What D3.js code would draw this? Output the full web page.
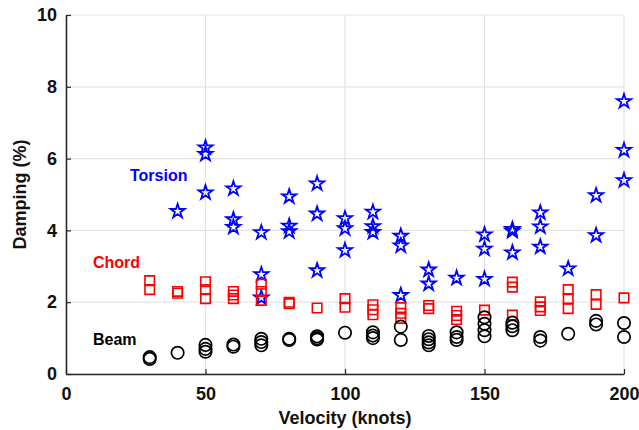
<!DOCTYPE html>
<html lang="en">
<head>
<meta charset="utf-8">
<title>Damping vs velocity</title>
<script src="https://cdn.jsdelivr.net/npm/d3@7"></script>
<style>
  body { margin: 0; background: #fff; }
  text { font-family: "Liberation Sans", Arial, sans-serif; font-weight: bold; }
</style>
</head>
<body>
<script>
// data
var torsionVel = [40,50,50,50,60,60,60,70,70,70,80,80,80,90,90,90,100,100,100,110,110,110,120,120,120,130,130,140,150,150,150,160,160,160,170,170,170,180,190,190,200,200,200];
var torsionDamp = [4.56,6.33,6.15,5.08,5.19,4.33,4.12,3.97,2.8,2.15,4.97,4.15,4.0,5.33,4.49,2.91,4.36,4.08,3.47,4.54,4.14,3.98,3.87,3.6,2.22,2.93,2.54,2.7,3.91,3.51,2.67,4.06,4.01,3.41,4.52,4.13,3.57,2.96,5.0,3.89,7.62,6.26,5.42];

var chordVel = [30,30,40,40,50,50,50,60,60,60,70,70,70,80,80,90,100,100,110,110,110,120,120,120,130,130,140,140,140,150,160,160,160,170,170,170,180,180,180,190,190,200];
var chordDamp = [2.6,2.35,2.3,2.25,2.57,2.35,2.1,2.3,2.2,2.1,2.5,2.3,2.05,2.0,1.96,1.84,2.1,1.86,1.93,1.79,1.65,1.85,1.69,1.55,1.91,1.82,1.75,1.63,1.52,1.78,2.56,2.42,1.64,2.01,1.87,1.77,2.35,2.1,1.82,2.21,1.94,2.12];

var beamVel = [30,30,40,50,50,50,60,60,70,70,70,80,80,90,90,90,100,110,110,110,120,120,130,130,130,130,140,140,140,150,150,150,150,160,160,160,170,170,180,190,190,200,200];
var beamDamp = [0.47,0.42,0.59,0.81,0.7,0.62,0.82,0.76,0.98,0.89,0.8,0.98,0.95,1.05,1.0,0.96,1.15,1.16,1.07,1.0,1.32,0.95,1.06,0.97,0.88,0.8,1.16,1.03,0.95,1.58,1.4,1.22,1.05,1.43,1.33,1.22,1.03,0.93,1.12,1.48,1.38,1.42,1.03];

var xTicks = [0, 50, 100, 150, 200];
var yTicks = [0, 2, 4, 6, 8, 10];

var w = 639, h = 430;
var margin = {top: 15, right: 15, bottom: 56, left: 66};

var svg = d3.select("body").append("svg")
  .attr("width", w)
  .attr("height", h);

var x = d3.scaleLinear().domain([0, 200]).range([margin.left, w - margin.right]);
var y = d3.scaleLinear().domain([0, 10]).range([h - margin.bottom, margin.top]);

// grid
svg.append("g").selectAll("line").data(xTicks).enter().append("line")
  .attr("x1", function(d) { return x(d); }).attr("x2", function(d) { return x(d); })
  .attr("y1", y(0)).attr("y2", y(10))
  .attr("stroke", "#e3e3e3").attr("stroke-width", 1.2);
svg.append("g").selectAll("line").data(yTicks).enter().append("line")
  .attr("y1", function(d) { return y(d); }).attr("y2", function(d) { return y(d); })
  .attr("x1", x(0)).attr("x2", x(200))
  .attr("stroke", "#e3e3e3").attr("stroke-width", 1.2);

// axes, ticks pointing inward
var xAxis = svg.append("g")
  .attr("transform", "translate(0," + y(0) + ")")
  .call(d3.axisBottom(x).tickValues(xTicks).tickSizeInner(-5).tickSizeOuter(0).tickPadding(13));
var yAxis = svg.append("g")
  .attr("transform", "translate(" + x(0) + ",0)")
  .call(d3.axisLeft(y).tickValues(yTicks).tickSizeInner(-5).tickSizeOuter(0).tickPadding(9));

[xAxis, yAxis].forEach(function(ax) {
  ax.select(".domain").attr("stroke", "#262626").attr("stroke-width", 1.5);
  ax.selectAll(".tick line").attr("stroke", "#262626").attr("stroke-width", 1.2);
  ax.selectAll(".tick text").attr("font-size", 18).attr("fill", "#111");
});

// axis titles
svg.append("text")
  .attr("x", x(100)).attr("y", 424)
  .attr("text-anchor", "middle")
  .attr("font-size", 18).attr("fill", "#111")
  .text("Velocity (knots)");
svg.append("text")
  .attr("transform", "translate(26," + y(5) + ") rotate(-90)")
  .attr("text-anchor", "middle")
  .attr("font-size", 18).attr("fill", "#111")
  .text("Damping (%)");

// markers
var star = d3.symbol().type(d3.symbolStar).size(62);
var square = d3.symbol().type(d3.symbolSquare).size(90);

svg.append("g").selectAll("path").data(d3.zip(torsionVel, torsionDamp)).enter().append("path")
  .attr("d", star)
  .attr("transform", function(d) { return "translate(" + x(d[0]) + "," + (y(d[1]) + 1) + ")"; })
  .attr("fill", "none").attr("stroke", "#0000ff").attr("stroke-width", 1.8);

svg.append("g").selectAll("path").data(d3.zip(chordVel, chordDamp)).enter().append("path")
  .attr("d", square)
  .attr("transform", function(d) { return "translate(" + x(d[0]) + "," + y(d[1]) + ")"; })
  .attr("fill", "none").attr("stroke", "#ff0000").attr("stroke-width", 1.6);

svg.append("g").selectAll("circle").data(d3.zip(beamVel, beamDamp)).enter().append("circle")
  .attr("cx", function(d) { return x(d[0]); })
  .attr("cy", function(d) { return y(d[1]); })
  .attr("r", 6.2)
  .attr("fill", "none").attr("stroke", "#000").attr("stroke-width", 1.7);

// series labels
svg.append("text").attr("x", 130).attr("y", 181).attr("font-size", 16).attr("fill", "#0000ff").text("Torsion");
svg.append("text").attr("x", 93).attr("y", 268).attr("font-size", 16).attr("fill", "#ff0000").text("Chord");
svg.append("text").attr("x", 93).attr("y", 345).attr("font-size", 16).attr("fill", "#000").text("Beam");
</script>
</body>
</html>
